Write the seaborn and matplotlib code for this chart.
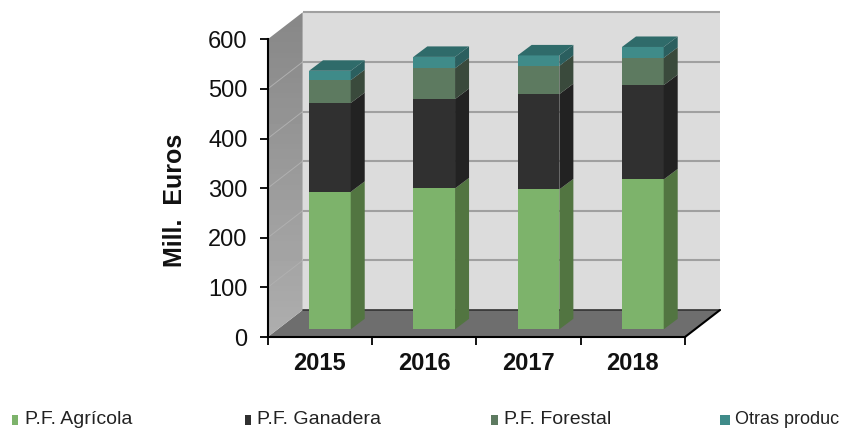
import numpy as np
import matplotlib.pyplot as plt
import seaborn as sns
from matplotlib.patches import Polygon, Rectangle
from matplotlib.transforms import Affine2D

years = ['2015', '2016', '2017', '2018']
agricola = [277, 284, 282, 302]
ganadera = [179, 180, 192, 190]
forestal = [46, 62, 57, 55]
otras = [19, 23, 21, 22]

series_names = ['P.F. Agrícola', 'P.F. Ganadera', 'P.F. Forestal', 'Otras produc']
series_values = [agricola, ganadera, forestal, otras]
front_colors = ['#7DB36B', '#303030', '#5D7A60', '#3F8B89']
side_colors = ['#527541', '#222222', '#3A4A3C', '#2B5F5F']
top_color = '#2F6B6A'
y_ticks = [0, 100, 200, 300, 400, 500, 600]

sns.set_style('white')
plt.rcParams['font.family'] = ['Liberation Sans', 'DejaVu Sans']

W, H = 845, 428
fig = plt.figure(figsize=(W / 100, H / 100), dpi=100)
ax = fig.add_axes([267.7 / W, (H - 337) / H, 417.3 / W, 297.7 / H])

# pixels per data unit
px_x = 417.3 / 4
px_y = 297.7 / 600

# depth of the box and of each bar, in data units
wall_dx = 35 / px_x
wall_dy = 27 / px_y
bar_shift_x = 10 / px_x
bar_shift_y = 7.7 / px_y
bar_dx = 14 / px_x
bar_dy = 10.5 / px_y

x0, x1 = -0.5, 3.5

# back wall, floor
ax.add_patch(Polygon([(x0 + wall_dx, wall_dy), (x1 + wall_dx, wall_dy),
                      (x1 + wall_dx, 600 + wall_dy), (x0 + wall_dx, 600 + wall_dy)],
                     fc='#DCDCDC', ec='none', zorder=1, clip_on=False))
ax.add_patch(Polygon([(x0, 0), (x1, 0), (x1 + wall_dx, wall_dy), (x0 + wall_dx, wall_dy)],
                     fc='#6E6E6E', ec='none', zorder=1, clip_on=False))

# left wall with a soft vertical gradient
wall_poly = Polygon([(x0, 0), (x0 + wall_dx, wall_dy), (x0 + wall_dx, 600 + wall_dy), (x0, 600)],
                    transform=ax.transData, fc='none', ec='none', clip_on=False)
ax.add_patch(wall_poly)
grad = np.linspace(0.53, 0.68, 64).reshape(-1, 1)
im = ax.imshow(grad, cmap='gray', vmin=0, vmax=1, aspect='auto', zorder=1,
               extent=(x0, x0 + wall_dx, 0, 600 + wall_dy), origin='upper')
im.set_clip_box(fig.bbox)
im.set_clip_path(wall_poly)

# gridlines on the walls
for t in y_ticks[1:]:
    ax.plot([x0 + wall_dx, x1 + wall_dx], [t + wall_dy, t + wall_dy], color='#A0A0A0', lw=1.5,
            zorder=2, clip_on=False, solid_capstyle='butt')
for t in y_ticks[1:-1]:
    ax.plot([x0, x0 + wall_dx], [t, t + wall_dy], color='#B0B0B0', lw=0.7, zorder=2, clip_on=False)
ax.plot([x0 + wall_dx, x1 + wall_dx], [wall_dy, wall_dy], color='#333333', lw=1.2, zorder=2, clip_on=False)
ax.plot([x1, x1 + wall_dx], [0, wall_dy], color='black', lw=1.5, zorder=3, clip_on=False)

# stacked bars, then their side and top faces
bottom = np.zeros(len(years))
for name, values, front, side in zip(series_names, series_values, front_colors, side_colors):
    sns.barplot(x=years, y=values, bottom=bottom, color=front, saturation=1, width=0.4,
                linewidth=0, ax=ax, zorder=5)
    shift = Affine2D().translate(10, 7.7)
    for bar in ax.containers[-1]:
        bar.set_transform(ax.transData + shift)
        bar.set_clip_on(False)
        right = bar.get_x() + bar.get_width() + bar_shift_x
        low = bar.get_y() + bar_shift_y
        high = low + bar.get_height()
        ax.add_patch(Polygon([(right, low), (right + bar_dx, low + bar_dy),
                              (right + bar_dx, high + bar_dy), (right, high)],
                             fc=side, ec='none', zorder=5, clip_on=False))
    bottom = bottom + np.array(values)

for bar in ax.containers[-1]:
    left = bar.get_x() + bar_shift_x
    right = left + bar.get_width()
    high = bar.get_y() + bar.get_height() + bar_shift_y
    ax.add_patch(Polygon([(left, high), (right, high), (right + bar_dx, high + bar_dy),
                          (left + bar_dx, high + bar_dy)],
                         fc=top_color, ec='none', zorder=5, clip_on=False))

ax.set_xlim(x0, x1)
ax.set_ylim(0, 600)
ax.set_yticks(y_ticks)
ax.set_xticks(range(len(years)))
ax.set_xticklabels(years, fontsize=17, fontweight='bold', color='#111111')
ax.set_xticks([x0, 0.5, 1.5, 2.5, x1], minor=True)
ax.tick_params(axis='x', which='major', length=0, pad=11)
ax.tick_params(axis='x', which='minor', length=5.5, width=1.3, color='black', bottom=True)
ax.tick_params(axis='y', length=5.5, width=1.3, color='black', left=True, labelsize=17,
               labelcolor='#111111', pad=9)
ax.set_ylabel('Mill.  Euros', fontsize=18, fontweight='bold', color='#111111')
ax.yaxis.set_label_coords(-0.194, 0.46)
ax.set_xlabel('')

ax.patch.set_visible(False)
for s in ['top', 'right']:
    ax.spines[s].set_visible(False)
for s in ['left', 'bottom']:
    ax.spines[s].set_color('black')
    ax.spines[s].set_linewidth(1.5)
    ax.spines[s].set_zorder(6)

# legend along the bottom of the figure
legend_marker_x = [12, 245, 491, 720]
legend_marker_w = [6, 6, 7, 10]
legend_text_x = [25, 257, 504, 735]
legend_size = [14, 14, 14, 13]
for i, name in enumerate(series_names):
    fig.add_artist(Rectangle((legend_marker_x[i] / W, (H - 425) / H), legend_marker_w[i] / W, 10 / H,
                             transform=fig.transFigure, fc=front_colors[i], ec='none'))
    fig.text(legend_text_x[i] / W, (H - 419.5) / H, name, fontsize=legend_size[i], color='#222222',
             va='center', ha='left')

fig.savefig('out.png', dpi=100)
